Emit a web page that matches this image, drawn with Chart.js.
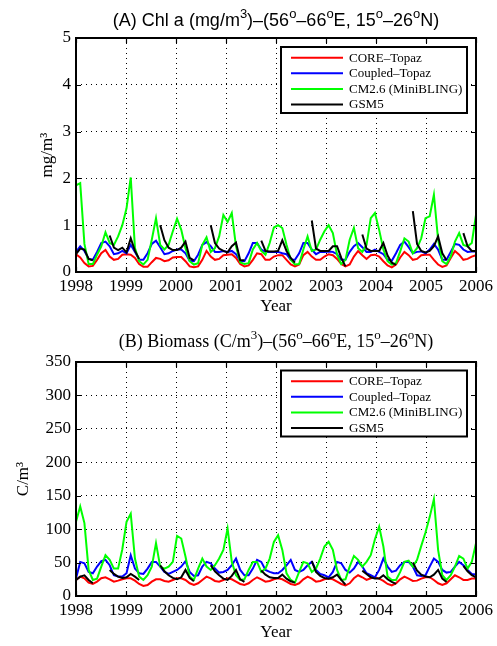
<!DOCTYPE html>
<html><head><meta charset="utf-8">
<script src="https://cdn.jsdelivr.net/npm/chart.js@4.4.1/dist/chart.umd.min.js"></script>
<style>
html,body{margin:0;padding:0;background:#fff;}
body{width:497px;height:646px;position:relative;overflow:hidden;}
canvas{position:absolute;left:0;}
#c1{top:0;}
#c2{top:300px;}
</style></head><body>
<canvas id="c1" width="497" height="323" style="width:497px;height:323px"></canvas>
<canvas id="c2" width="497" height="346" style="width:497px;height:346px"></canvas>
<script>
// ---------- data ----------
const years = [1998, 1999, 2000, 2001, 2002, 2003, 2004, 2005, 2006];
const seriesLabels = ['CORE\u2013Topaz', 'Coupled\u2013Topaz', 'CM2.6 (MiniBLING)', 'GSM5'];
const seriesColors = ['#ff0000', '#0000ff', '#00ff00', '#000000'];
const nMonths = 96;
const time = Array.from({length: nMonths}, (_, j) => 1998 + j * 8 / (nMonths - 1));

// (A) Chl a, mg/m3
const chlCore = [
0.38,0.31,0.19,0.12,0.13,0.26,0.40,0.47,0.33,0.26,0.28,0.37,
0.38,0.37,0.30,0.17,0.11,0.11,0.21,0.30,0.28,0.23,0.25,0.31,
0.32,0.32,0.23,0.12,0.10,0.12,0.26,0.45,0.33,0.26,0.28,0.36,
0.37,0.38,0.30,0.17,0.12,0.14,0.26,0.40,0.38,0.26,0.26,0.33,
0.36,0.36,0.26,0.16,0.12,0.16,0.36,0.43,0.33,0.26,0.26,0.33,
0.38,0.36,0.28,0.17,0.12,0.16,0.33,0.45,0.36,0.28,0.36,0.37,
0.33,0.23,0.14,0.10,0.16,0.31,0.43,0.36,0.26,0.28,0.36,0.37,
0.37,0.26,0.16,0.11,0.14,0.30,0.45,0.37,0.26,0.28,0.33,0.36];
const chlCoupled = [
0.43,0.55,0.45,0.28,0.26,0.43,0.62,0.65,0.55,0.38,0.40,0.45,
0.40,0.58,0.43,0.26,0.26,0.40,0.60,0.67,0.53,0.38,0.40,0.45,
0.48,0.48,0.40,0.24,0.23,0.37,0.58,0.64,0.55,0.43,0.43,0.45,
0.43,0.45,0.38,0.24,0.23,0.40,0.62,0.62,0.48,0.43,0.43,0.43,
0.43,0.40,0.38,0.26,0.26,0.40,0.62,0.62,0.48,0.38,0.43,0.43,
0.44,0.43,0.38,0.26,0.26,0.43,0.55,0.62,0.53,0.43,0.43,0.48,
0.43,0.38,0.26,0.24,0.40,0.58,0.65,0.53,0.40,0.43,0.44,0.40,
0.48,0.60,0.48,0.26,0.26,0.43,0.60,0.58,0.48,0.43,0.44,0.44];
const chlCM26 = [
1.85,1.90,0.60,0.17,0.17,0.37,0.55,0.85,0.62,0.58,0.76,1.00,
1.36,2.02,0.51,0.23,0.16,0.26,0.69,1.15,0.58,0.48,0.58,0.87,
1.14,0.90,0.51,0.23,0.16,0.19,0.58,0.74,0.43,0.51,0.76,1.22,
1.07,1.26,0.55,0.21,0.17,0.19,0.48,0.62,0.45,0.37,0.62,0.95,
1.00,0.94,0.58,0.26,0.16,0.17,0.48,0.76,0.45,0.48,0.69,0.87,
1.00,0.83,0.37,0.17,0.26,0.69,0.94,0.51,0.43,0.58,1.15,1.26,
0.90,0.48,0.23,0.16,0.19,0.44,0.72,0.65,0.40,0.51,0.72,1.15,
1.19,1.65,0.69,0.23,0.17,0.33,0.65,0.83,0.58,0.55,0.62,1.22];
const chlGSM5 = [
0.38,0.50,0.48,0.28,0.25,null,null,null,0.78,0.52,0.47,0.52,
0.42,0.72,0.45,0.28,null,null,null,null,1.00,0.68,0.52,0.47,
0.47,0.52,0.65,0.30,0.25,null,null,null,1.00,0.62,0.50,0.45,
0.42,0.55,0.63,0.25,0.25,null,null,null,0.67,0.45,0.44,0.44,
0.45,0.68,0.45,0.30,0.20,null,null,null,1.10,0.50,0.45,0.45,
0.45,0.55,0.55,0.30,0.12,null,null,null,0.80,0.50,0.45,0.45,
0.45,0.62,0.35,0.20,0.15,null,null,null,1.30,0.60,0.45,0.42,
0.45,0.55,0.76,0.40,0.25,null,null,null,0.83,0.55,0.45,0.45];

// (B) Biomass, C/m3
const bioCore = [
24,29,26.5,20,18,21.5,26.5,28,25,21.5,23,25,
26.5,26.5,23,18,15,16.5,21.5,25,25,22.5,21.5,24,
26.5,26.5,24,19,16.5,19,24,29,26.5,22.5,21.5,24,
26.5,25,21.5,18,16.5,19,24,28,25,21.5,22.5,25,
26.5,25,21.5,18,16.5,19,25,29,26,21.5,22.5,25,
26,25,21.5,18,16,19,26.5,31,28,24,26.5,28,
26,22.5,18,16,19,25,29,26,22.5,23,26,28,
28,24,19,16.5,19,25,31,28,24,24,26,26];
const bioCoupled = [
26,51,49,36,34,44,52,54,46,31,29,29,
34,61,41,34,33,41,51,51,44,36,33,36,
39,44,52,36,30,31,44,51,49,41,35,36,
39,46,56,39,31,31,41,54,51,39,36,34,
34,39,46,54,39,36,39,46,51,39,33,31,
28,36,51,49,39,35,41,51,44,34,31,28,
39,56,44,36,38,46,51,51,44,31,30,31,
44,56,51,39,35,36,44,51,46,39,33,32];
const bioCM26 = [
111,134,109,39,24,26,44,61,54,41,41,70,
111,123,56,29,24,31,44,79,44,41,44,51,
90,86,59,29,24,41,56,44,39,46,56,69,
101,51,31,24,25,39,51,51,36,41,56,81,
91,69,34,24,20,36,51,49,36,41,56,74,
81,69,39,24,25,44,60,54,44,51,61,85,
104,74,29,24,24,36,51,53,44,54,75,95,
118,145,69,31,24,31,44,60,56,41,51,79];
const bioGSM5 = [
24,29,31,24,19,null,null,null,39,33,29,27,
28,33,29,24,null,null,null,null,46,37,31,27,
25,28,39,27,22,null,null,null,46,37,31,26,
24,30,39,25,21,null,null,null,38,32,28,27,
27,32,26,22,20,null,null,null,52,36,30,27,
26,28,32,24,17,null,null,null,38,33,28,26,
26,31,25,21,18,null,null,null,50,38,32,29,
28,32,39,26,21,null,null,null,45,37,31,28];

const titleA = [['(A) Chl a (mg/m',0],['3',1],[')\u2013(56',0],['o',1],['\u201366',0],['o',1],['E, 15',0],['o',1],['\u201326',0],['o',1],['N)',0]];
const titleB = [['(B) Biomass (C/m',0],['3',1],[')\u2013(56',0],['o',1],['\u201366',0],['o',1],['E, 15',0],['o',1],['\u201326',0],['o',1],['N)',0]];

// ---------- plugins ----------
const SERIF = "'Liberation Serif','Times New Roman',serif";
const SANS = "'Liberation Sans',Arial,Helvetica,sans-serif";
Chart.defaults.font.family = SERIF;
Chart.defaults.color = '#000';

const supTitle = {
  id: 'supTitle',
  afterDraw(chart, args, o) {
    const ctx = chart.ctx, ca = chart.chartArea;
    ctx.save();
    ctx.fillStyle = '#000';
    ctx.textBaseline = 'alphabetic';
    const mainF = o.size + 'px ' + o.family, supF = o.supSize + 'px ' + o.family;
    let total = 0;
    o.segments.forEach(([s, sup]) => { ctx.font = sup ? supF : mainF; total += ctx.measureText(s).width; });
    let x = (ca.left + ca.right) / 2 - total / 2;
    o.segments.forEach(([s, sup]) => {
      ctx.font = sup ? supF : mainF;
      ctx.fillText(s, x, sup ? o.baseline - o.raise : o.baseline);
      x += ctx.measureText(s).width;
    });
    ctx.restore();
  }
};

const frame = {
  id: 'frame',
  afterDatasetsDraw(chart) {
    const ctx = chart.ctx, ca = chart.chartArea, xs = chart.scales.x, ys = chart.scales.y;
    ctx.save();
    ctx.strokeStyle = '#000';
    ctx.lineWidth = 1.2;
    const L = 5;
    ctx.beginPath();
    xs.ticks.forEach(t => {
      const px = Math.round(xs.getPixelForValue(t.value)) + 0.5;
      ctx.moveTo(px, ca.bottom); ctx.lineTo(px, ca.bottom - L);
      ctx.moveTo(px, ca.top); ctx.lineTo(px, ca.top + L);
    });
    ys.ticks.forEach(t => {
      const py = Math.round(ys.getPixelForValue(t.value)) + 0.5;
      ctx.moveTo(ca.left, py); ctx.lineTo(ca.left + L, py);
      ctx.moveTo(ca.right, py); ctx.lineTo(ca.right - L, py);
    });
    ctx.stroke();
    ctx.lineWidth = 2;
    ctx.strokeRect(ca.left, ca.top, ca.right - ca.left, ca.bottom - ca.top);
    ctx.restore();
  }
};

const boxLegend = {
  id: 'boxLegend',
  afterDraw(chart, args, o) {
    const ctx = chart.ctx, ca = chart.chartArea;
    const w = 186, h = 66;
    const left = ca.right - 9 - w, top = ca.top + o.offset;
    ctx.save();
    ctx.fillStyle = '#fff';
    ctx.fillRect(left, top, w, h);
    ctx.lineWidth = 2;
    ctx.strokeStyle = '#000';
    ctx.strokeRect(left, top, w, h);
    ctx.font = '13px ' + SERIF;
    ctx.textBaseline = 'middle';
    ctx.textAlign = 'left';
    chart.data.datasets.forEach((ds, k) => {
      const y = top + 10.7 + 15.6 * k;
      ctx.strokeStyle = ds.borderColor;
      ctx.lineWidth = 2;
      ctx.beginPath(); ctx.moveTo(left + 10, y); ctx.lineTo(left + 62, y); ctx.stroke();
      ctx.fillStyle = '#000';
      ctx.fillText(ds.label, left + 68, y + 0.5);
    });
    ctx.restore();
  }
};

function makeChart(id, series, yMax, yStep, yTitle, cfg) {
  return new Chart(document.getElementById(id), {
    type: 'line',
    data: {
      datasets: series.map((s, k) => ({
        label: seriesLabels[k],
        data: s.map((v, j) => ({x: time[j], y: v})),
        borderColor: seriesColors[k],
        backgroundColor: seriesColors[k],
        borderWidth: 2,
        pointRadius: 0,
        tension: 0,
        spanGaps: false,
        fill: false,
        order: 4 - k
      }))
    },
    options: {
      responsive: false,
      animation: false,
      events: [],
      layout: {padding: {left: 0, right: 19, top: cfg.top, bottom: 0}},
      plugins: {
        legend: {display: false},
        tooltip: {enabled: false},
        supTitle: cfg.title,
        boxLegend: {offset: cfg.legendOffset}
      },
      scales: {
        x: {
          type: 'linear', min: years[0], max: years[years.length - 1],
          ticks: {stepSize: 1, autoSkip: false, maxRotation: 0, padding: 4, font: {size: 17}, color: '#000',
                  callback: v => String(v)},
          grid: {color: '#000', lineWidth: 1, drawTicks: false},
          border: {display: false, dash: [1, 4]},
          title: {display: true, text: 'Year', font: {size: 17}, color: '#000', padding: {top: 0, bottom: cfg.yearPad}},
          afterFit: s => { s.height = cfg.xh; }
        },
        y: {
          min: 0, max: yMax,
          ticks: {stepSize: yStep, padding: 5, font: {size: 17}, color: '#000'},
          grid: {color: '#000', lineWidth: 1, drawTicks: false},
          border: {display: false, dash: [1, 4]},
          title: {display: true, text: yTitle, font: {size: 17}, color: '#000', padding: {top: cfg.yt, bottom: 0}},
          afterFit: s => { s.width = 76; }
        }
      }
    },
    plugins: [frame, boxLegend, supTitle]
  });
}

makeChart('c1', [chlCore, chlCoupled, chlCM26, chlGSM5], 5, 1, 'mg/m\u00b3', {
  top: 38, xh: 51, yt: 37, legendOffset: 9, yearPad: 6,
  title: {segments: titleA, family: SANS, size: 18, supSize: 13, baseline: 26, raise: 8.5}
});
makeChart('c2', [bioCore, bioCoupled, bioCM26, bioGSM5], 350, 50, 'C/m\u00b3', {
  top: 62, xh: 50, yt: 13, legendOffset: 8.5, yearPad: 3,
  title: {segments: titleB, family: SERIF, size: 18, supSize: 13, baseline: 47, raise: 8}
});
</script>
</body></html>
